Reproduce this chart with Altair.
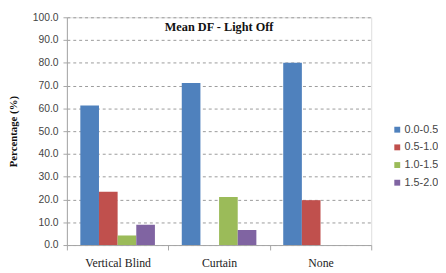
import altair as alt
import pandas as pd

categories = ["Vertical Blind", "Curtain", "None"]
series = ["0.0-0.5", "0.5-1.0", "1.0-1.5", "1.5-2.0"]
values = {
    "0.0-0.5": [61.3, 71.2, 80.0],
    "0.5-1.0": [23.4, 0.0, 19.7],
    "1.0-1.5": [4.2, 21.1, 0.0],
    "1.5-2.0": [8.9, 6.6, 0.0],
}
colors = ["#4F81BD", "#C0504D", "#9BBB59", "#8064A2"]
y_ticks = [0, 10, 20, 30, 40, 50, 60, 70, 80, 90, 100]

rows = []
for s in series:
    for c, v in zip(categories, values[s]):
        rows.append({"cat": c, "series": s, "value": v})
df = pd.DataFrame(rows)

SERIF = "Liberation Serif"
SANS = "Liberation Sans"

chart = alt.Chart(df).mark_bar().encode(
    x=alt.X("cat:N", sort=categories,
            scale=alt.Scale(paddingInner=0, paddingOuter=0),
            axis=alt.Axis(title=None, labelAngle=0, tickBand="extent", grid=False,
                          domainColor="#A6A6A6", tickColor="#A6A6A6", tickSize=5,
                          labelFont=SERIF, labelFontSize=12, labelColor="#222",
                          labelPadding=8)),
    xOffset=alt.XOffset("series:N", sort=series,
                        scale=alt.Scale(paddingInner=0, paddingOuter=0.72)),
    y=alt.Y("value:Q", scale=alt.Scale(domain=[0, 100], nice=False),
            axis=alt.Axis(title="Percentage (%)", values=y_ticks, format=".1f",
                          labelFont=SANS, labelFontSize=10.5, labelColor="#444",
                          titleFont=SERIF, titleFontSize=11, titleFontWeight="bold",
                          titleColor="#111", titleX=-49, titleY=116,
                          domainColor="#A6A6A6", tickColor="#A6A6A6", tickSize=4,
                          labelPadding=5,
                          gridColor="#9A9A9A", gridDash=[3, 3], gridWidth=1)),
    color=alt.Color("series:N", sort=series,
                    scale=alt.Scale(domain=series, range=colors),
                    legend=alt.Legend(title=None, orient="none", legendX=331, legendY=109,
                                      symbolType="square", symbolSize=36,
                                      symbolStrokeWidth=0,
                                      labelFont=SANS, labelFontSize=11, labelColor="#444",
                                      labelLimit=200, rowPadding=6, labelOffset=2)),
).properties(
    width=310,
    height=232,
    autosize="none",
    padding={"left": 60, "top": 7, "right": 68, "bottom": 25},
    title=alt.TitleParams("Mean DF - Light Off", font=SERIF, fontSize=12.5,
                          fontWeight="bold", color="#111", anchor="middle",
                          offset=-21),
).configure_view(stroke=None).configure(background="white")

chart.save("out.html", embed_options={"renderer": "svg", "actions": False})
